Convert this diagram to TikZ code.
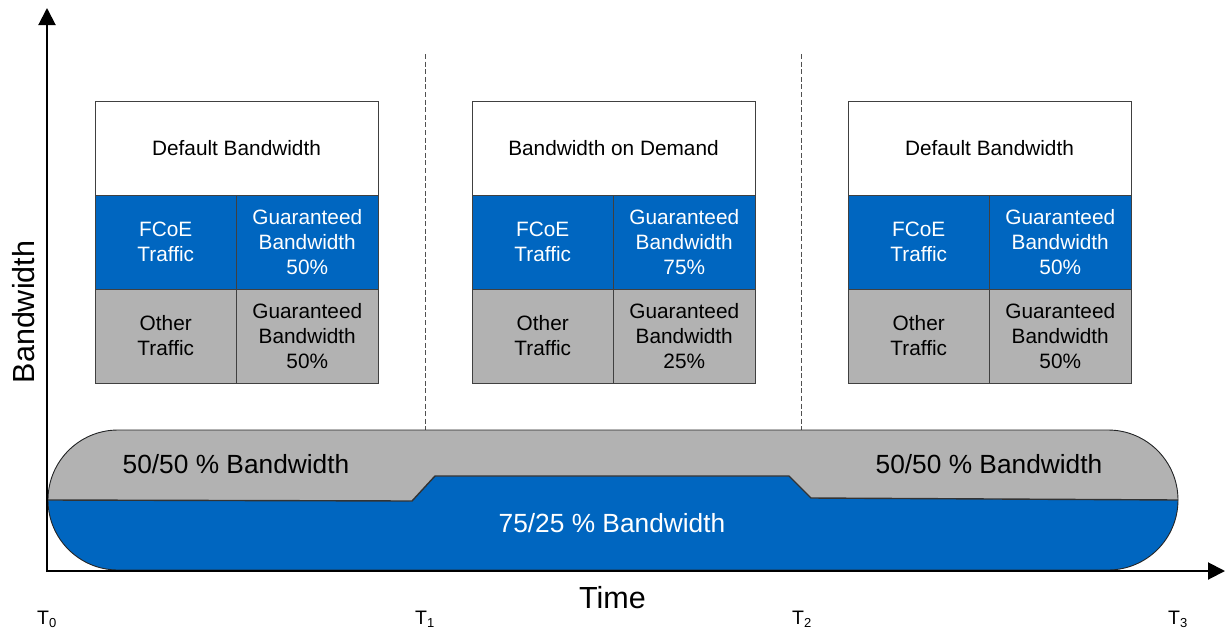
\documentclass[tikz,border=0pt]{standalone}
\usepackage{fontspec}
\setmainfont{Liberation Sans}
\usetikzlibrary{arrows.meta}
\definecolor{fcblue}{RGB}{0,102,192}
\definecolor{ogray}{RGB}{178,178,178}
\definecolor{edgec}{RGB}{64,64,64}
\definecolor{dashc}{RGB}{80,80,80}
\begin{document}
\begin{tikzpicture}[x=1pt,y=-1pt,
  cell/.style={draw=edgec, line width=0.8pt, inner sep=0pt, align=center,
    minimum height=94pt, font=\fontsize{20.8}{25}\selectfont},
  headcell/.style={cell, fill=white, minimum width=283pt},
  bluecell/.style={cell, fill=fcblue, text=white, minimum width=141.5pt},
  graycell/.style={cell, fill=ogray, text=black, minimum width=141.5pt},
  axisline/.style={line width=2pt, -{Triangle[length=17pt,width=17pt]}},
  divider/.style={dashc, line width=0.9pt, dash pattern=on 5pt off 2.6pt},
  tlabel/.style={anchor=base west, inner sep=0pt, font=\fontsize{19.5}{19.5}\selectfont},
  pilltext/.style={inner sep=0pt, font=\fontsize{26.3}{26.3}\selectfont}]
\useasboundingbox (0,0) rectangle (1227,630);

% dashed separators
\coordinate (d1t) at (425,54);
\coordinate (d1b) at (425,430);
\coordinate (d2t) at (801,54);
\coordinate (d2b) at (801,430);
\draw[divider] (d1t) -- (d1b);
\draw[divider] (d2t) -- (d2b);

% boxes
\foreach \bx/\head/\top/\bot [count=\i] in {95/Default Bandwidth/50\%/50\%, 472/Bandwidth on Demand/75\%/25\%, 848/Default Bandwidth/50\%/50\%}{
  \node[headcell] (h\i) at (\bx+141.5,148) {\head};
  \node[bluecell] (fl\i) at (\bx+70.75,242) {FCoE\\Traffic};
  \node[bluecell] (fr\i) at (\bx+212.25,242) {Guaranteed\\Bandwidth\\\top};
  \node[graycell] (ol\i) at (\bx+70.75,336) {Other\\Traffic};
  \node[graycell] (or\i) at (\bx+212.25,336) {Guaranteed\\Bandwidth\\\bot};
}

% pill
\fill[fcblue, rounded corners=70pt] (48,430) rectangle (1178,570);
\begin{scope}
  \clip[rounded corners=70pt] (48,430) rectangle (1178,570);
  \fill[ogray] (40,420) -- (40,500) -- (48,500) -- (412,501) -- (435,476) -- (789,476) -- (811,498) -- (1178,500) -- (1190,500) -- (1190,420) -- cycle;
\end{scope}
\draw[line width=1.4pt, black!80] (48,500) -- (412,501) -- (435,476) -- (789,476) -- (811,498) -- (1178,500);
\draw[line width=0.9pt, black!85, rounded corners=70pt] (48,430) rectangle (1178,570);

\node[pilltext] (p1) at (236,464) {50/50 \% Bandwidth};
\node[pilltext] (p2) at (989,464) {50/50 \% Bandwidth};
\node[pilltext, text=white] (p3) at (612,523) {75/25 \% Bandwidth};

% axes
\coordinate (o) at (47,571);
\coordinate (ytip) at (47,8);
\coordinate (xtip) at (1225,571);
\draw[axisline] (47,572) -- (ytip);
\draw[axisline] (46,571) -- (xtip);

\node[inner sep=0pt, anchor=base, font=\fontsize{30.5}{30.5}\selectfont] (time) at (612.5,608) {Time};
\node[inner sep=0pt, rotate=90, font=\fontsize{30.5}{30.5}\selectfont] (bw) at (24,312) {Bandwidth};

\foreach \x/\n in {37/0, 415/1, 792/2, 1168/3}{
  \node[tlabel] (t\n) at (\x,624) {T\raisebox{-3pt}{\fontsize{13}{13}\selectfont\n}};
}
\end{tikzpicture}
\end{document}
